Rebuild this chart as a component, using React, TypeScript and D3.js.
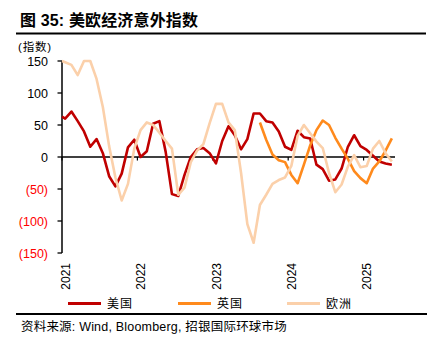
import React from "react";
import * as d3 from "d3";

// Monthly readings, plotted at mid-month; index 0 = Jan 2021
const usStart = 0;
const usValues = [60, 71, 56, 40, 16, 28, 6, -30, -46, -26, 15, 27, 0, 9, 52, 56, 8, -58, -61, -28, 0, 12, 14, 6, -10, 25, 48, 34, 12, 28, 68, 68, 56, 54, 40, 16, 11, 41, 31, 29, -12, -19, -37, -35, -18, 16, 34, 17, 11, 2, -7, -10, -12];
const usFirst = 63;

const ukStart = 31;
const ukValues = [54, 27, 4, -5, -8, -28, -41, -12, 18, 42, 57, 50, 30, 13, -3, -22, -33, -41, -18, -7, 10, 29];

const euStart = 0;
const euValues = [148, 144, 128, 150, 150, 122, 78, 17, -32, -68, -42, 13, 42, 54, 50, 38, 25, 13, -59, -48, -8, 10, 20, 53, 83, 83, 54, 42, -25, -105, -134, -75, -59, -42, -36, -32, -14, 33, 50, 37, 24, 14, -25, -55, -43, -15, 3, -16, -14, 13, 25, 6, -7];
const euFirst = 150;

const yTicks = [150, 100, 50, 0, -50, -100, -150];
const xTickLabels = ["2021", "2022", "2023", "2024", "2025"];
const xTickMonths = [0, 12, 24, 36, 48];
const totalMonths = 53;

const seriesNames = ["美国", "英国", "欧洲"];
const seriesColors = ["#C00000", "#FF8A1C", "#FBD0AA"];

const title = "图 35: 美欧经济意外指数";
const unitLabel = "(指数)";
const sourceText = "资料来源: Wind, Bloomberg, 招银国际环球市场";

type Pt = { m: number; v: number };

function build(start: number, values: number[], first?: number): Pt[] {
  const pts: Pt[] = [];
  if (first !== undefined) pts.push({ m: start, v: first });
  values.forEach((v, i) => pts.push({ m: start + i + 0.5, v }));
  return pts;
}

export default function App() {
  const W = 435, H = 356;
  const x = d3.scaleLinear().domain([0, totalMonths]).range([62, 395]);
  const y = d3.scaleLinear().domain([-150, 150]).range([253, 61]);
  const line = d3.line<Pt>().x(d => x(d.m)).y(d => y(d.v));
  const series = [
    build(usStart, usValues, usFirst),
    build(ukStart, ukValues),
    build(euStart, euValues, euFirst),
  ];
  const latin = "'Liberation Sans', Arial, sans-serif";
  const cjk = "'Liberation Sans', 'Noto Sans CJK SC', sans-serif";
  const legendX = [68, 178, 287];

  return (
    <svg width={W} height={H} style={{ position: "absolute", left: 0, top: 0, background: "#fff" }}>
      <text x={20} y={26} fontFamily={cjk} fontWeight="bold" fontSize={16} letterSpacing={0.15} fill="#000">{title}</text>
      <line x1={16} x2={426} y1={33.5} y2={33.5} stroke="#000" strokeWidth={2.2} />
      <text x={18} y={51} fontFamily={cjk} fontSize={11.5} letterSpacing={0.8} fill="#000">{unitLabel}</text>

      {/* y axis */}
      <line x1={x(0)} x2={x(0)} y1={y(150)} y2={y(-150)} stroke="#000" strokeWidth={1.5} />
      {yTicks.map(t => (
        <g key={t}>
          <line x1={x(0) - 4.5} x2={x(0)} y1={y(t)} y2={y(t)} stroke="#000" strokeWidth={1.3} />
          <text x={48} y={y(t)} dy="0.36em" textAnchor="end" fontFamily={latin} fontSize={12.5}
            fill={t < 0 ? "#FF0000" : "#000"}>{t < 0 ? `(${-t})` : `${t}`}</text>
        </g>
      ))}

      {/* x axis at zero */}
      <line x1={x(0)} x2={x(totalMonths)} y1={y(0)} y2={y(0)} stroke="#000" strokeWidth={1.5} />
      {xTickMonths.map((m, i) => (
        <g key={m}>
          <line x1={x(m)} x2={x(m)} y1={y(0)} y2={y(0) + 3.5} stroke="#000" strokeWidth={1.2} />
          <text transform={`translate(${x(m) + 3.5},263) rotate(-90)`} textAnchor="end" dy="0.36em"
            fontFamily={latin} fontSize={12} fill="#000">{xTickLabels[i]}</text>
        </g>
      ))}

      {series.map((s, i) => (
        <path key={i} d={line(s) || ""} fill="none" stroke={seriesColors[i]} strokeWidth={2.6} strokeLinejoin="round" />
      ))}

      {/* legend */}
      {seriesNames.map((n, i) => (
        <g key={n}>
          <line x1={legendX[i]} x2={legendX[i] + 33} y1={303.5} y2={303.5} stroke={seriesColors[i]} strokeWidth={3} />
          <text x={legendX[i] + 39} y={303.5} dy="0.38em" fontFamily={cjk} fontSize={12} letterSpacing={1} fill="#000">{n}</text>
        </g>
      ))}

      <line x1={16} x2={427} y1={314} y2={314} stroke="#000" strokeWidth={2.2} />
      <text x={21} y={331} fontFamily={cjk} fontSize={12.5} letterSpacing={0.2} fill="#000">{sourceText}</text>
    </svg>
  );
}
